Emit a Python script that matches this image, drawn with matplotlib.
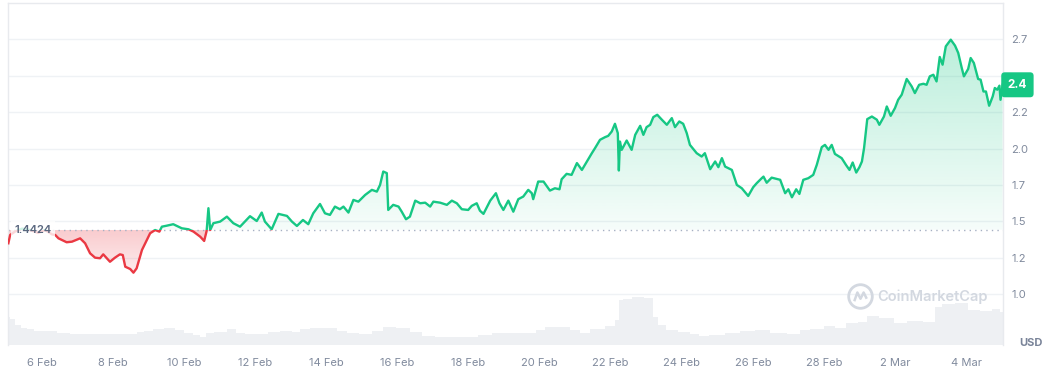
import numpy as np
import matplotlib.pyplot as plt
from matplotlib.colors import to_rgb
from matplotlib.patches import Rectangle, PathPatch
from matplotlib.path import Path
from matplotlib import transforms

plt.rcParams['font.family'] = ['Inter', 'DejaVu Sans']

# день лютого (1 Mar = 29), ціна в USD
price_days = [5.05, 5.10, 5.24, 5.44, 5.66, 5.89, 6.08, 6.28, 6.37, 6.46, 6.69, 6.84, 7.07, 7.21,
              7.35, 7.49, 7.63, 7.72, 7.91, 8.05, 8.19, 8.27, 8.34, 8.48, 8.57, 8.66, 8.81, 8.95,
              9.04, 9.18, 9.30, 9.37, 9.51, 9.69, 9.93, 10.12, 10.26, 10.45, 10.56, 10.63, 10.68,
              10.73, 10.82, 11.01, 11.20, 11.38, 11.57, 11.85, 12.04, 12.18, 12.27, 12.46, 12.65,
              12.89, 13.03, 13.17, 13.34, 13.49, 13.63, 13.82, 13.96, 14.10, 14.24, 14.38, 14.48,
              14.62, 14.76, 14.90, 15.09, 15.28, 15.42, 15.51, 15.60, 15.70, 15.74, 15.88, 16.03,
              16.12, 16.24, 16.35, 16.50, 16.64, 16.78, 16.92, 17.01, 17.20, 17.39, 17.53, 17.67,
              17.81, 17.99, 18.09, 18.23, 18.32, 18.42, 18.61, 18.77, 18.87, 18.98, 19.12, 19.26,
              19.40, 19.54, 19.68, 19.78, 19.82, 19.96, 20.11, 20.29, 20.43, 20.56, 20.62, 20.76,
              20.90, 21.05, 21.19, 21.33, 21.47, 21.56, 21.70, 21.84, 21.93, 22.03, 22.12, 22.20,
              22.23, 22.26, 22.31, 22.45, 22.59, 22.69, 22.83, 22.92, 23.01, 23.11, 23.20, 23.31,
              23.44, 23.58, 23.72, 23.81, 23.93, 24.04, 24.14, 24.23, 24.42, 24.56, 24.65, 24.80,
              24.94, 25.03, 25.13, 25.22, 25.41, 25.55, 25.69, 25.87, 26.01, 26.11, 26.25, 26.30,
              26.39, 26.53, 26.77, 26.91, 27.00, 27.10, 27.22, 27.31, 27.42, 27.56, 27.70, 27.80,
              27.94, 28.03, 28.13, 28.22, 28.31, 28.50, 28.62, 28.72, 28.81, 28.91, 29.00, 29.07,
              29.13, 29.22, 29.35, 29.49, 29.56, 29.69, 29.77, 29.88, 30.00, 30.09, 30.19, 30.33,
              30.47, 30.56, 30.68, 30.80, 30.89, 30.98, 31.08, 31.17, 31.26, 31.34, 31.43, 31.57,
              31.69, 31.78, 31.88, 31.94, 32.06, 32.13, 32.22, 32.34, 32.41, 32.49, 32.56, 32.65,
              32.75, 32.81, 32.88, 32.94, 32.97, 33.03]
price = [1.349, 1.406, 1.43, 1.45, 1.44, 1.42, 1.44, 1.41, 1.406, 1.383, 1.356, 1.36, 1.383, 1.349,
         1.28, 1.25, 1.246, 1.273, 1.222, 1.25, 1.273, 1.268, 1.188, 1.172, 1.147, 1.177, 1.303, 1.372,
         1.418, 1.44, 1.429, 1.463, 1.47, 1.48, 1.452, 1.445, 1.429, 1.394, 1.365, 1.434, 1.59,
         1.44, 1.487, 1.498, 1.532, 1.487, 1.463, 1.535, 1.502, 1.56, 1.498, 1.445, 1.551,
         1.537, 1.498, 1.468, 1.509, 1.48, 1.555, 1.619, 1.555, 1.544, 1.601, 1.583, 1.601,
         1.56, 1.647, 1.635, 1.681, 1.716, 1.704, 1.75, 1.842, 1.831, 1.578, 1.613, 1.601,
         1.566, 1.514, 1.532, 1.642, 1.624, 1.628, 1.601, 1.635, 1.628, 1.613, 1.642, 1.624,
         1.583, 1.578, 1.606, 1.624, 1.573, 1.551, 1.642, 1.693, 1.624, 1.578, 1.642, 1.566,
         1.652, 1.67, 1.716, 1.693, 1.652, 1.773, 1.773, 1.711, 1.727, 1.72, 1.789, 1.826,
         1.819, 1.9, 1.853, 1.911, 1.968, 2.003, 2.06, 2.078, 2.087, 2.117, 2.17, 2.106,
         1.849, 2.048, 1.991, 2.055, 1.991, 2.094, 2.156, 2.094, 2.147, 2.163, 2.216, 2.232,
         2.198, 2.163, 2.209, 2.147, 2.186, 2.17, 2.106, 2.025, 1.968, 1.945, 1.968, 1.858,
         1.911, 1.872, 1.934, 1.876, 1.853, 1.75, 1.727, 1.674, 1.734, 1.762, 1.796, 1.807,
         1.765, 1.8, 1.785, 1.693, 1.72, 1.665, 1.72, 1.688, 1.785, 1.796, 1.819, 1.888,
         2.01, 2.025, 1.991, 2.025, 1.963, 1.934, 1.888, 1.853, 1.904, 1.835, 1.872, 1.911,
         2.003, 2.202, 2.22, 2.198, 2.163, 2.22, 2.289, 2.225, 2.278, 2.335, 2.37, 2.478,
         2.427, 2.381, 2.438, 2.445, 2.438, 2.496, 2.507, 2.461, 2.629, 2.576, 2.702, 2.748,
         2.707, 2.657, 2.553, 2.496, 2.547, 2.622, 2.588, 2.478, 2.473, 2.392, 2.392, 2.294,
         2.358, 2.416, 2.404, 2.432, 2.335, 2.438]
base_price = 1.4424

# обсяг торгів (відносні одиниці)
vol_days = [5.04, 5.18, 5.32, 5.47, 5.66, 5.86, 6.23, 6.59, 6.98, 7.35, 7.83, 8.19, 8.56, 8.76, 8.98,
            9.24, 9.60, 9.88, 10.11, 10.36, 10.53, 10.67, 11.01, 11.37, 11.57, 11.85, 12.22, 12.50,
            12.89, 13.18, 13.34, 13.74, 14.10, 14.47, 14.67, 15.14, 15.45, 15.74, 16.16, 16.55,
            16.83, 17.28, 17.76, 18.13, 18.41, 18.89, 19.37, 19.79, 20.01, 20.29, 20.66, 21.05,
            21.22, 21.62, 22.07, 22.18, 22.26, 22.46, 22.74, 23.11, 23.25, 23.39, 23.75, 24.04,
            24.43, 24.52, 24.99, 25.44, 25.84, 26.29, 26.68, 27.25, 27.41, 27.81, 28.17, 28.45,
            28.82, 29.10, 29.30, 29.78, 30.15, 30.51, 31.07, 31.21, 31.46, 31.91, 32.20, 32.59,
            32.87, 33.04]
volume = [28, 26, 20, 17, 16, 14, 14, 12.3, 11, 10.7, 11, 10.7, 10.7, 12.7, 14.3, 16, 16.7, 15,
          12.3, 10, 8.3, 12.3, 13.3, 15.7, 12.3, 10.7, 11, 13, 13.7, 12.7, 15.7, 16.7, 16.7, 14.3,
          12.3, 11, 14.3, 17.7, 16.7, 13.3, 9, 8.3, 7.7, 7.7, 10, 11.7, 12.3, 11.7, 15, 17.7, 17.7,
          15, 12.3, 15.7, 19, 25, 45, 45.7, 47.7, 46.7, 28, 20, 15, 13.3, 11, 9, 10, 12.3, 14.3, 15,
          12.3, 11, 15, 15.7, 19, 16.7, 21.7, 23.3, 29, 26.7, 22.3, 24.3, 23.3, 38.3, 41, 41.7, 35,
          34.3, 35.7, 33.3]

tick_days = [6, 8, 10, 12, 14, 16, 18, 20, 22, 24, 26, 28, 30, 32]
tick_labels = ['6 Feb', '8 Feb', '10 Feb', '12 Feb', '14 Feb', '16 Feb', '18 Feb', '20 Feb',
               '22 Feb', '24 Feb', '26 Feb', '28 Feb', '2 Mar', '4 Mar']
y_ticks = [1.0, 1.25, 1.5, 1.75, 2.0, 2.25, 2.5, 2.75]
y_labels = ['1.0', '1.2', '1.5', '1.7', '2.0', '2.2', '', '2.7']  # 2.5 ховається під плашкою

green = '#16c784'
red = '#ea3943'
grey_txt = '#808a9d'
x0, x1 = 5.04, 33.04

fig = plt.figure(figsize=(10.48, 3.7), dpi=100)
pos = [8 / 1048, 25 / 370, 995 / 1048, 342 / 370]

# обсяг - окрема вісь позаду
axv = fig.add_axes(pos)
axv.fill_between(vol_days, volume, step='mid', color='#eef0f3', lw=0)
axv.set_xlim(x0, x1)
axv.set_ylim(0, max(volume) * 7.17)
axv.axis('off')

ax = fig.add_axes(pos)
ax.patch.set_alpha(0)
t = np.array(price_days)
p = np.array(price)


def gradient_fill(mask, color, lo, hi, a_lo, a_hi):
    poly = ax.fill_between(t, p, base_price, where=mask, interpolate=True, color='none')
    clip = PathPatch(Path.make_compound_path(*poly.get_paths()), transform=ax.transData,
                     fc='none', ec='none')
    grad = np.zeros((256, 1, 4))
    grad[:, 0, :3] = to_rgb(color)
    grad[:, 0, 3] = np.linspace(a_lo, a_hi, 256)
    im = ax.imshow(grad, extent=[x0, x1, lo, hi], origin='lower', aspect='auto',
                   interpolation='bilinear', zorder=1)
    im.set_clip_path(clip)
    poly.remove()


gradient_fill(p >= base_price, green, base_price, 2.8, 0.04, 0.30)
gradient_fill(p <= base_price, red, 1.1, base_price, 0.07, 0.26)

lg, = ax.plot(t, p, color=green, lw=1.7, zorder=3, solid_joinstyle='round')
lg.set_clip_path(Rectangle((x0, base_price), x1 - x0, 3, transform=ax.transData))
lr, = ax.plot(t, p, color=red, lw=1.7, zorder=3, solid_joinstyle='round')
lr.set_clip_path(Rectangle((x0, 0), x1 - x0, base_price, transform=ax.transData))

ax.axhline(base_price, color='#a6b0c3', lw=1, ls=(0, (1, 3)), zorder=2)
ax.text(5.22, base_price, '1.4424', ha='left', va='center', fontsize=8, fontweight='semibold',
        color='#58667e', zorder=4,
        bbox=dict(boxstyle='square,pad=0.3', fc='white', ec='none', alpha=0.8))

ax.set_xlim(x0, x1)
ax.set_ylim(0.65, 3.0)
ax.yaxis.tick_right()
ax.set_yticks(y_ticks, y_labels)
ax.set_xticks(tick_days, tick_labels)
ax.tick_params(axis='y', length=0, pad=6, labelsize=8, labelcolor=grey_txt)
ax.tick_params(axis='x', length=0, pad=9, labelsize=8, labelcolor=grey_txt)
ax.grid(axis='y', color='#eff2f5', lw=1)
ax.set_axisbelow(True)
for side in ['left', 'top', 'right']:
    ax.spines[side].set_color('#e8eaee')
    ax.spines[side].set_linewidth(1)
ax.spines['bottom'].set_visible(False)

# поточна ціна
tr = transforms.blended_transform_factory(ax.transAxes, ax.transData)
ax.text(1.0145, price[-1], '2.4', transform=tr, ha='center', va='center', fontsize=8.5,
        fontweight='bold', color='white', zorder=10, clip_on=False,
        bbox=dict(boxstyle='round,pad=0.55,rounding_size=0.3', fc=green, ec='none'))

# водяний знак
ax.plot([0.856], [0.143], 'o', transform=ax.transAxes, ms=17, mfc='none', mec='#d3d8e0', mew=2)
ax.plot([0.856], [0.140], marker=Path([(-1, -0.6), (-0.5, 0.8), (0, -0.2), (0.5, 0.8), (1, -0.2)],
                                      [Path.MOVETO] + [Path.LINETO] * 4),
        transform=ax.transAxes, ms=9, mfc='none', mec='#d3d8e0', mew=1.8)
ax.text(0.874, 0.142, 'CoinMarketCap', transform=ax.transAxes, ha='left', va='center',
        fontsize=10.5, fontweight='semibold', color='#d3d8e0')

fig.text(1031 / 1048, 27 / 370, 'USD', ha='center', va='center', fontsize=8,
         fontweight='bold', color='#7a8499')

fig.savefig('out.png', dpi=100)
